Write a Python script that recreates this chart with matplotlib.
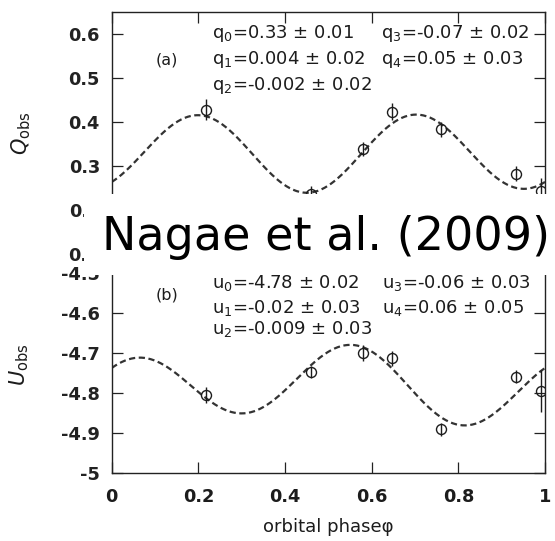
import numpy as np
import matplotlib
matplotlib.use("Agg")
import matplotlib.pyplot as plt
from matplotlib.patches import Rectangle

plt.rcParams['font.family'] = ['DejaVu Sans']
plt.rcParams['mathtext.fontset'] = 'dejavusans'
plt.rcParams['axes.unicode_minus'] = False

# Observed orbital phases and polarisation measurements
phase = [0.2185, 0.461, 0.579, 0.648, 0.759, 0.932, 0.991]
q_obs = [0.428, 0.237, 0.339, 0.423, 0.384, 0.283, 0.244]
q_err = [0.023, 0.017, 0.016, 0.019, 0.017, 0.017, 0.030]
u_obs = [-4.804, -4.746, -4.700, -4.7125, -4.890, -4.758, -4.794]
u_err = [0.020, 0.015, 0.020, 0.018, 0.016, 0.016, 0.052]

# Fourier coefficients of the fits and their uncertainties
q_coef = [0.33, 0.004, -0.002, -0.07, 0.05]
q_sig = [0.01, 0.02, 0.02, 0.02, 0.03]
u_coef = [-4.78, -0.02, -0.009, -0.06, 0.06]
u_sig = [0.02, 0.03, 0.03, 0.03, 0.05]
u_phase_zero = 0.13

x_ticks = [0, 0.2, 0.4, 0.6, 0.8, 1]
q_ticks = [0.1, 0.2, 0.3, 0.4, 0.5, 0.6]
u_ticks = [-5, -4.9, -4.8, -4.7, -4.6, -4.5]


def fourier(c, ph):
    th = 2 * np.pi * np.asarray(ph)
    return (c[0] + c[1] * np.cos(th) + c[2] * np.sin(th)
            + c[3] * np.cos(2 * th) + c[4] * np.sin(2 * th))


ink = '#1c1c1c'
fig = plt.figure(figsize=(5.55, 5.41), dpi=100)
ax1 = fig.add_axes([0.2013, 0.5299, 0.7807, 0.4485])
ax2 = fig.add_axes([0.2013, 0.1251, 0.7807, 0.3697])

grid = np.linspace(0, 1, 400)
panels = [
    (ax1, q_obs, q_err, fourier(q_coef, grid), q_coef, q_sig, 'q', '(a)',
     q_ticks, (0.1, 0.65), r'$Q_{\rm obs}$'),
    (ax2, u_obs, u_err, fourier(u_coef, grid + u_phase_zero), u_coef, u_sig,
     'u', '(b)', u_ticks, (-5, -4.5), r'$U_{\rm obs}$'),
]

for (ax, obs, err, model, coef, sig, sym, tag, yt, ylim, ylab) in panels:
    ax.plot(grid, model, color='#333333', lw=1.6, ls=(0, (2.8, 1.6)))
    ax.errorbar(phase, obs, yerr=err, fmt='o', mfc='none', mec=ink, ms=7.2,
                mew=1.0, ecolor=ink, elinewidth=1.0, capsize=0)
    ax.set_xlim(0, 1)
    ax.set_ylim(*ylim)
    ax.set_yticks(yt, labels=['%g' % v for v in yt], fontweight='bold',
                  fontsize=12.8, color=ink)
    for s in ax.spines.values():
        s.set_linewidth(1.0)
        s.set_color('#222222')
    ax.tick_params(direction='in', length=8, width=0.9, colors='#222222',
                   right=True, pad=8.5)
    ax.set_ylabel(ylab, fontsize=15, color=ink)

ax1.set_xticks(x_ticks, labels=[])
ax1.tick_params(top=True)
ax2.set_xticks(x_ticks, labels=['%g' % v for v in x_ticks],
               fontweight='bold', fontsize=12.8, color=ink)
ax2.tick_params(axis='x', pad=10.5)
ax2.tick_params(top=False)

ax1.yaxis.set_label_coords(-0.182, 0.5)
ax2.yaxis.set_label_coords(-0.186, 0.545)
ax2.set_xlabel('orbital phase\u03c6', fontsize=13, color=ink, labelpad=9)

# Panel tags and fitted coefficients
txt_pos = {
    ax1: dict(tag=(0.128, 0.801), rows=[0.911, 0.801, 0.694], cols=(0.2308, 0.6215)),
    ax2: dict(tag=(0.128, 0.8915), rows=[0.95, 0.829, 0.7215], cols=(0.2308, 0.6245)),
}
for (ax, obs, err, model, coef, sig, sym, tag, yt, ylim, ylab) in panels:
    p = txt_pos[ax]
    ax.text(*p['tag'], tag, transform=ax.transAxes, fontsize=11.5,
            ha='center', va='center', color=ink)
    for i in range(5):
        col = 0 if i < 3 else 1
        row = i if i < 3 else i - 3
        ax.text(p['cols'][col], p['rows'][row],
                '%s$_{%d}$=%g \u00b1 %g' % (sym, i, coef[i], sig[i]),
                transform=ax.transAxes, fontsize=13, ha='left', va='center',
                color=ink)

# Credit banner
fig.add_artist(Rectangle((0.151, 0.4926), 1.0, 0.1488, transform=fig.transFigure,
                         facecolor='white', edgecolor='none', zorder=10))
fig.text(0.1832, 0.538, 'Nagae et al. (2009)', fontsize=33.2, color='black',
         ha='left', va='baseline', zorder=11)

fig.savefig('out.png', dpi=100)
